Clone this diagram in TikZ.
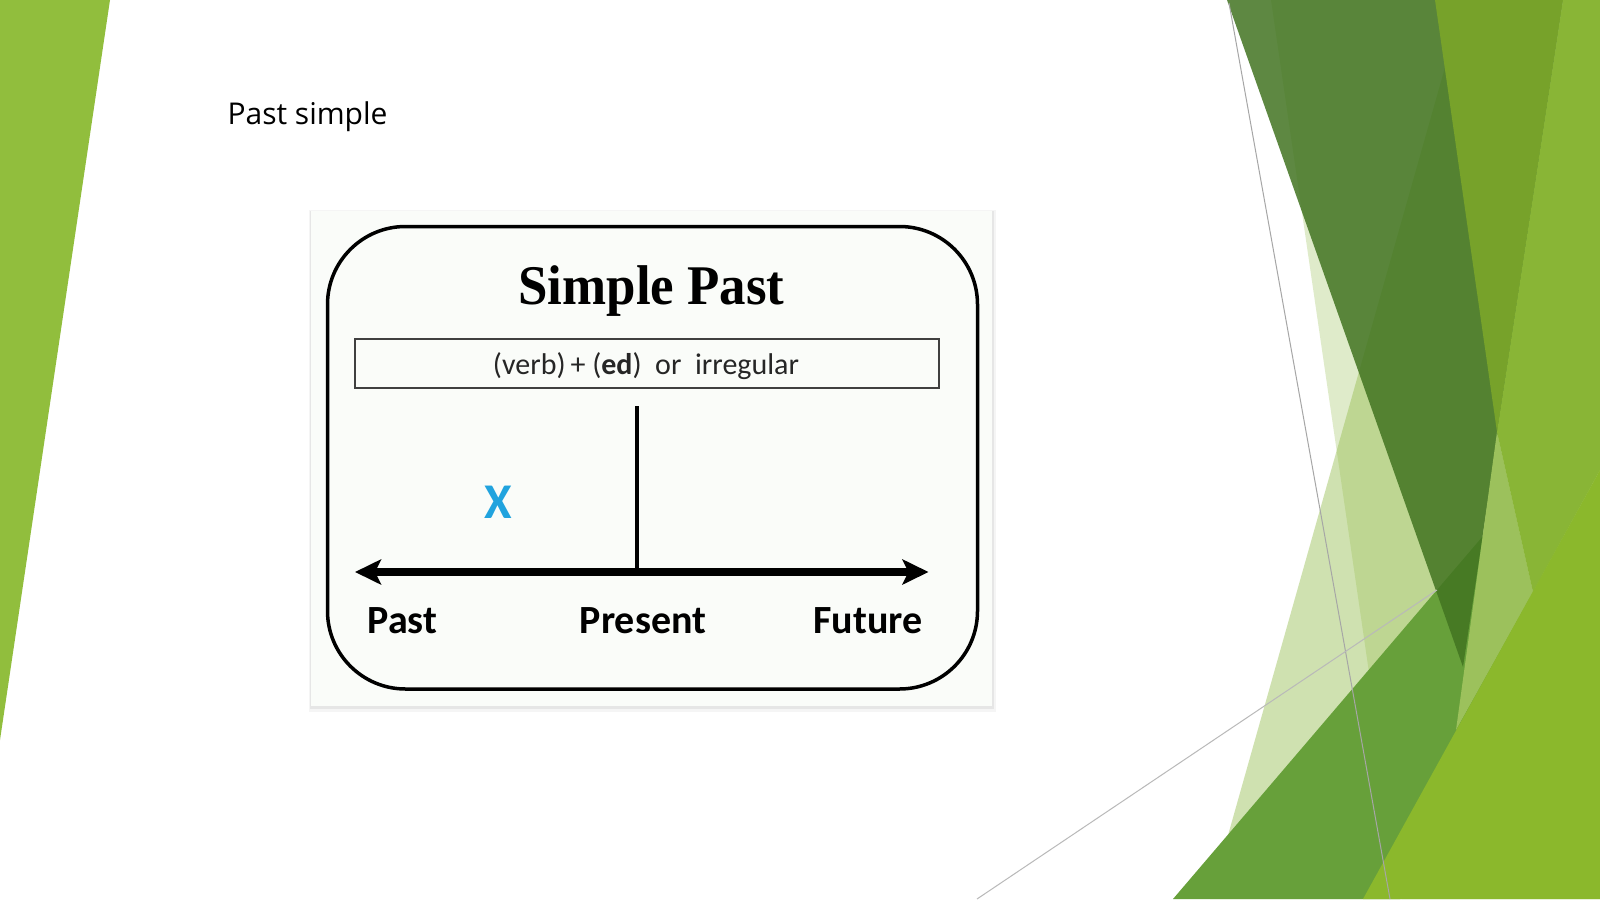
\documentclass[tikz,border=0pt]{standalone}
\usepackage{fontspec}
\setmainfont{Open Sans}
\newfontfamily\calib{Carlito}
\newfontfamily\timesf{Liberation Serif}
\usetikzlibrary{arrows.meta}

\definecolor{leftgreen}{RGB}{145,190,61}
\definecolor{paleg}{RGB}{150,190,80}
\definecolor{darkg}{RGB}{66,116,33}
\definecolor{midg}{RGB}{103,160,58}
\definecolor{oliveg}{RGB}{119,162,42}
\definecolor{limeg}{RGB}{137,181,54}
\definecolor{brightg}{RGB}{139,184,44}
\definecolor{stripeg}{RGB}{156,193,92}
\definecolor{xblue}{RGB}{33,163,222}
\definecolor{cardbg}{RGB}{250,252,249}

\tikzset{
  thinline/.style={draw=gray!70, line width=1},
  label/.style={anchor=base, font=\calib\bfseries\fontsize{40}{44}\selectfont},
  Tipx/.tip={Stealth[length=26pt, width=25pt, inset=6pt]}
}

\begin{document}
\begin{tikzpicture}[x=1pt, y=-1pt]
\useasboundingbox (0,0) rectangle (1600,899);
\fill[white] (0,0) rectangle (1600,899);

% left decoration
\fill[leftgreen] (0,0) -- (110,0) -- (0,740) -- cycle;

% right decoration
\fill[paleg, fill opacity=0.3] (1271,0) -- (1600,0) -- (1600,899) -- (1402,899) -- cycle;
\fill[paleg, fill opacity=0.45] (1464,0) -- (1600,0) -- (1600,899) -- (1210,899) -- cycle;
\fill[midg] (1173,899) -- (1483,536) -- (1530,600) -- (1400,899) -- cycle;
\fill[darkg, fill opacity=0.85] (1227,0) -- (1563,0) -- (1463,667) -- cycle;
\fill[stripeg] (1497,432) -- (1533,592) -- (1456,730) -- cycle;
\fill[oliveg] (1435,0) -- (1563,0) -- (1497,432) -- cycle;
\fill[limeg] (1563,0) -- (1600,0) -- (1600,470) -- (1533,592) -- (1497,432) -- cycle;
\fill[brightg] (1600,470) -- (1600,899) -- (1363,899) -- cycle;
\draw[thinline] (1229,3) -- (1390,899);
\draw[thinline, draw=gray!55] (977,899) -- (1437,590);

% title
\node[anchor=base west, font=\fontsize{30}{36}\selectfont] (ttl) at (224,124.5) {Past simple};

% card
\fill[black, opacity=0.04] (309,210) rectangle (996,712);
\fill[black, opacity=0.06] (310,211) rectangle (994,709);
\fill[cardbg] (311,211) rectangle (992,706);
\draw[line width=3.5, rounded corners=78] (327.5,226.5) rectangle (977.5,689);

\node[anchor=base, font=\timesf\bfseries\fontsize{56}{60}\selectfont] (head) at (651.5,304) {\scalebox{0.945}[1]{Simple Past}};

\node[draw=black!75, line width=1.5, minimum width=584, minimum height=49, inner sep=0] (rule) at (647,363.5) {};
\node[anchor=base, text=black!85, font=\calib\fontsize{30}{34}\selectfont] (ruletext) at (646,374.5)
      {(verb)\,+ (\textbf{ed})\ \ or\ \ irregular};

\coordinate (aL) at (355,572);
\coordinate (aR) at (928.5,572);
\coordinate (now) at (637,406);
\draw[line width=4.5] (now) -- (now |- aL);
\draw[line width=8, Tipx-Tipx] (aL) -- (aR);

\node[text=xblue, font=\calib\bfseries\fontsize{50}{54}\selectfont] (mark) at (498,502) {X};

\node[label] (past) at (402.5,633) {Past};
\node[label] (present) at (643,633) {Present};
\node[label] (future) at (868,633) {Future};
\end{tikzpicture}
\end{document}
